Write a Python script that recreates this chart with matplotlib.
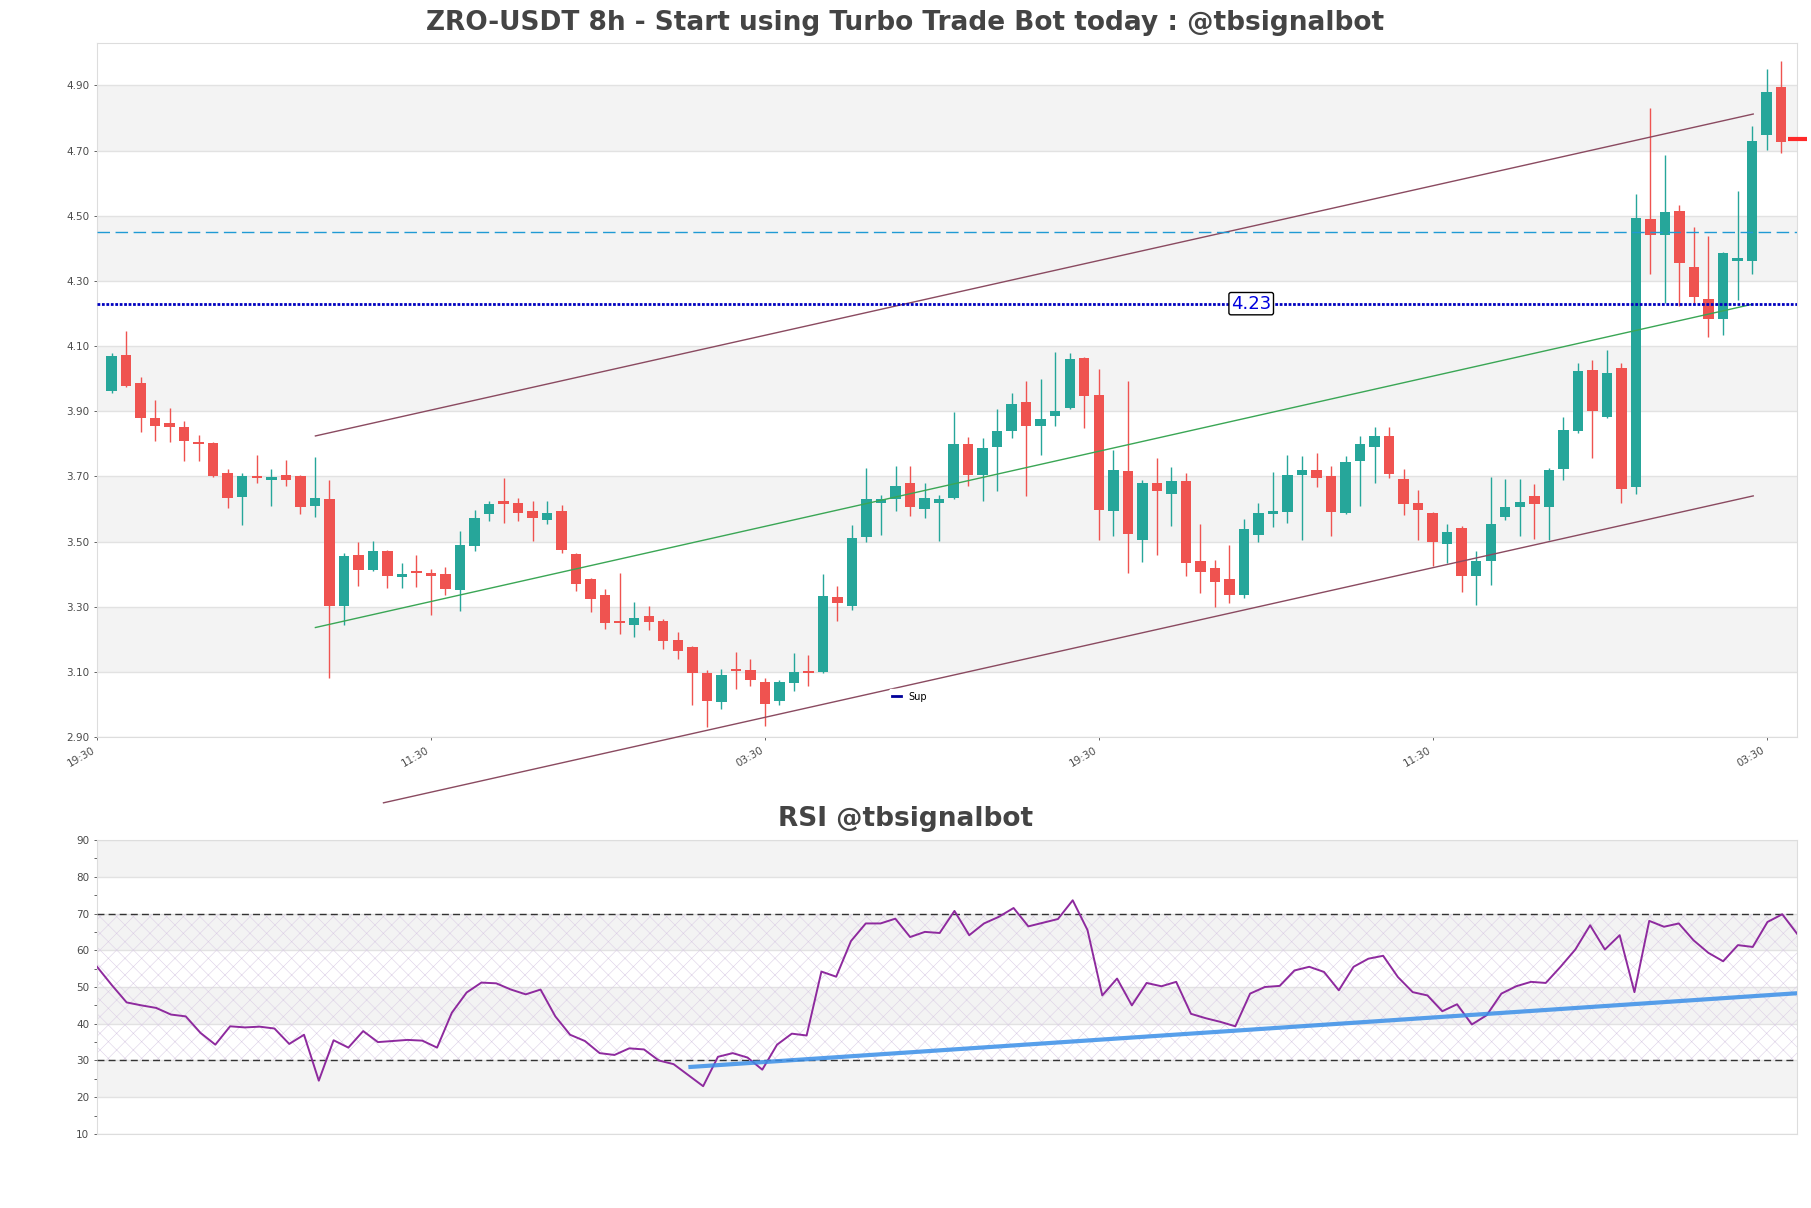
import numpy as np
import matplotlib.pyplot as plt
from matplotlib.lines import Line2D

# 8h candles
opens = [3.962, 4.072, 3.987, 3.880, 3.864, 3.852, 3.805, 3.803, 3.711, 3.636,
         3.700, 3.688, 3.705, 3.700, 3.608, 3.629, 3.302, 3.460, 3.412, 3.472,
         3.391, 3.409, 3.402, 3.399, 3.351, 3.486, 3.584, 3.624, 3.617, 3.593,
         3.566, 3.593, 3.463, 3.385, 3.336, 3.250, 3.245, 3.270, 3.255, 3.197,
         3.176, 3.096, 3.006, 3.103, 3.105, 3.068, 3.009, 3.067, 3.099, 3.099,
         3.329, 3.303, 3.514, 3.618, 3.630, 3.681, 3.599, 3.619, 3.633, 3.800,
         3.705, 3.789, 3.840, 3.927, 3.856, 3.884, 3.910, 4.063, 3.950, 3.593,
         3.717, 3.504, 3.681, 3.645, 3.687, 3.439, 3.420, 3.385, 3.336, 3.519,
         3.584, 3.590, 3.703, 3.721, 3.700, 3.586, 3.748, 3.790, 3.823, 3.692,
         3.619, 3.588, 3.491, 3.540, 3.393, 3.439, 3.574, 3.605, 3.639, 3.605,
         3.723, 3.840, 4.026, 3.881, 4.032, 3.666, 4.491, 4.441, 4.515, 4.343,
         4.244, 4.184, 4.360, 4.362, 4.748, 4.895]
highs = [4.080, 4.146, 4.005, 3.935, 3.909, 3.870, 3.827, 3.805, 3.722, 3.710,
         3.766, 3.723, 3.751, 3.703, 3.758, 3.689, 3.465, 3.498, 3.501, 3.474,
         3.433, 3.460, 3.417, 3.422, 3.532, 3.598, 3.625, 3.694, 3.634, 3.623,
         3.623, 3.613, 3.465, 3.387, 3.353, 3.402, 3.313, 3.301, 3.261, 3.221,
         3.178, 3.105, 3.108, 3.160, 3.139, 3.080, 3.075, 3.157, 3.151, 3.399,
         3.363, 3.552, 3.727, 3.642, 3.731, 3.733, 3.681, 3.644, 3.898, 3.821,
         3.818, 3.906, 3.956, 3.993, 3.999, 4.082, 4.079, 4.065, 4.029, 3.782,
         3.993, 3.690, 3.757, 3.730, 3.709, 3.555, 3.442, 3.488, 3.569, 3.619,
         3.712, 3.766, 3.761, 3.772, 3.731, 3.761, 3.823, 3.851, 3.851, 3.723,
         3.657, 3.592, 3.554, 3.548, 3.472, 3.698, 3.693, 3.693, 3.676, 3.725,
         3.881, 4.048, 4.056, 4.087, 4.048, 4.568, 4.832, 4.685, 4.532, 4.464,
         4.439, 4.390, 4.575, 4.775, 4.950, 4.975]
lows = [3.957, 3.975, 3.835, 3.807, 3.804, 3.746, 3.748, 3.697, 3.602, 3.550,
        3.679, 3.608, 3.669, 3.585, 3.575, 3.082, 3.243, 3.363, 3.409, 3.357,
        3.357, 3.360, 3.273, 3.335, 3.287, 3.472, 3.562, 3.556, 3.563, 3.502,
        3.554, 3.466, 3.349, 3.285, 3.231, 3.215, 3.206, 3.229, 3.169, 3.139,
        2.999, 2.931, 2.987, 3.047, 3.055, 2.935, 2.997, 3.041, 3.055, 3.097,
        3.257, 3.291, 3.497, 3.520, 3.594, 3.578, 3.573, 3.501, 3.631, 3.669,
        3.623, 3.654, 3.819, 3.639, 3.767, 3.853, 3.908, 3.847, 3.504, 3.516,
        3.403, 3.437, 3.459, 3.549, 3.394, 3.342, 3.300, 3.311, 3.328, 3.499,
        3.544, 3.557, 3.504, 3.667, 3.517, 3.583, 3.610, 3.681, 3.695, 3.581,
        3.504, 3.425, 3.433, 3.346, 3.305, 3.368, 3.565, 3.517, 3.507, 3.504,
        3.690, 3.832, 3.756, 3.879, 3.619, 3.646, 4.321, 4.231, 4.222, 4.231,
        4.127, 4.133, 4.240, 4.322, 4.701, 4.692]
closes = [4.069, 3.978, 3.878, 3.856, 3.850, 3.807, 3.798, 3.702, 3.633, 3.702,
          3.695, 3.698, 3.688, 3.605, 3.635, 3.302, 3.454, 3.412, 3.472, 3.394,
          3.399, 3.403, 3.394, 3.354, 3.488, 3.573, 3.616, 3.614, 3.588, 3.572,
          3.587, 3.474, 3.370, 3.324, 3.251, 3.249, 3.264, 3.254, 3.196, 3.165,
          3.096, 3.009, 3.090, 3.102, 3.074, 3.000, 3.068, 3.099, 3.096, 3.333,
          3.310, 3.512, 3.629, 3.632, 3.671, 3.605, 3.635, 3.632, 3.800, 3.705,
          3.788, 3.840, 3.922, 3.853, 3.877, 3.901, 4.060, 3.948, 3.598, 3.720,
          3.522, 3.681, 3.654, 3.687, 3.434, 3.406, 3.376, 3.336, 3.537, 3.586,
          3.593, 3.703, 3.721, 3.696, 3.590, 3.743, 3.798, 3.823, 3.707, 3.616,
          3.597, 3.499, 3.530, 3.393, 3.441, 3.554, 3.605, 3.621, 3.616, 3.720,
          3.841, 4.024, 3.901, 4.017, 3.661, 4.493, 4.441, 4.512, 4.355, 4.250,
          4.184, 4.386, 4.370, 4.728, 4.881, 4.726]

rsi = [55.5, 50.5, 45.8, 45.0, 44.3, 42.5, 42.0, 37.5, 34.3, 39.3,
       39.0, 39.2, 38.7, 34.5, 37.0, 24.5, 35.5, 33.5, 38.0, 35.0,
       35.3, 35.6, 35.4, 33.5, 43.0, 48.5, 51.2, 51.0, 49.3, 48.0,
       49.3, 42.0, 37.0, 35.3, 32.0, 31.5, 33.3, 33.0, 30.0, 29.0,
       26.0, 23.0, 31.0, 32.0, 30.8, 27.5, 34.3, 37.3, 36.8, 54.2,
       52.8, 62.5, 67.3, 67.3, 68.6, 63.6, 65.0, 64.7, 70.7, 64.1,
       67.3, 69.1, 71.5, 66.5, 67.5, 68.5, 73.6, 65.5, 47.7, 52.3,
       45.0, 51.1, 50.2, 51.4, 42.7, 41.5, 40.5, 39.3, 48.2, 50.0,
       50.3, 54.5, 55.5, 54.1, 49.1, 55.5, 57.7, 58.5, 52.7, 48.6,
       47.7, 43.4, 45.3, 39.8, 42.3, 48.2, 50.2, 51.4, 51.1, 55.5,
       60.2, 66.8, 60.2, 64.1, 48.6, 68.0, 66.4, 67.3, 62.7, 59.3,
       57.0, 61.4, 60.9, 67.7, 69.8, 64.5]

tick_pos = [0, 23, 46, 69, 92, 115]
tick_labels = ["19:30", "11:30", "03:30", "19:30", "11:30", "03:30"]

sup_level = 4.23
res_level = 4.45
last_mark = 4.735
chan_upper = ([15.04, 114.08], [3.824, 4.812])
chan_mid = ([15.04, 114.0], [3.236, 4.228])
chan_lower = ([19.73, 114.08], [2.698, 3.640])
rsi_trend = ([40, 115], [28.2, 48.3])

UP = "#26a69a"
DOWN = "#ef5350"
BAND = "#f3f3f3"
GRID = "#e2e2e2"
TXT = "#4a4a4a"

plt.rcParams["hatch.linewidth"] = 0.4

fig = plt.figure(figsize=(18.11, 12.08), dpi=100)
ax = fig.add_axes([0.0536, 0.3899, 0.9387, 0.5745])
rx = fig.add_axes([0.0536, 0.0613, 0.9387, 0.2433])

# ---- price panel
o = np.array(opens)
h = np.array(highs)
l = np.array(lows)
c = np.array(closes)
x = np.arange(1, len(c) + 1)
up = c >= o
cols = np.where(up, UP, DOWN)
body_lo = np.minimum(o, c)
body_h = np.maximum(np.abs(c - o), 0.007)

for lo_b in np.arange(3.10, 5.0, 0.4):
    ax.axhspan(lo_b, lo_b + 0.2, color=BAND, zorder=0, lw=0)

ax.vlines(x, l, h, colors=cols, lw=1.0, zorder=2)
ax.bar(x, body_h, bottom=body_lo, width=0.72, color=cols, zorder=3, lw=0)

ax.plot(*chan_upper, color="#8a4a60", lw=1.0, zorder=4)
ax.plot(*chan_mid, color="#3aa655", lw=1.0, zorder=4)
ax.plot(*chan_lower, color="#8a4a60", lw=1.0, zorder=4, clip_on=False)

ax.axhline(sup_level, color="#0000c0", lw=2.0, dashes=(1, 0.6), zorder=4)
ax.axhline(res_level, color="#1f9ad4", lw=1.0, dashes=(9, 4), zorder=4)
ax.text(79.5, sup_level, "4.23", color="#0000dd", fontsize=13, ha="center", va="center", zorder=6,
        bbox=dict(boxstyle="round,pad=0.12", fc="white", ec="black", lw=1))

ax.plot([116.5, 117.8], [last_mark, last_mark], color="#ff2a2a", lw=3, clip_on=False, zorder=5,
        solid_capstyle="butt")

ax.set_xlim(0, 117.1)
ax.set_ylim(2.90, 5.03)
ax.set_yticks(np.arange(2.90, 4.91, 0.2))
ax.set_yticklabels(["%.2f" % v for v in np.arange(2.90, 4.91, 0.2)])
ax.set_xticks(tick_pos)
ax.set_xticklabels(tick_labels, rotation=30, ha="right")
ax.tick_params(axis="both", labelsize=7.5, colors=TXT, length=2, width=0.6)
ax.grid(axis="y", color=GRID, lw=1.0, zorder=1)
ax.set_axisbelow(True)
for s in ax.spines.values():
    s.set_color("#dddddd")

leg = ax.legend(handles=[Line2D([0], [0], color="#000099", lw=2)], labels=["Sup"],
                loc="center", bbox_to_anchor=(0.478, 0.058), fontsize=7, handlelength=0.9,
                frameon=True, framealpha=1, edgecolor="white", borderpad=0.3)
leg.set_zorder(7)

fig.text(0.5, 0.981, "ZRO-USDT 8h - Start using Turbo Trade Bot today : @tbsignalbot",
         ha="center", va="center", fontsize=19, fontweight="bold", color="#444444")

# ---- RSI panel
xr = np.arange(len(rsi))
for lo_b in [20, 40, 60, 80]:
    rx.axhspan(lo_b, lo_b + 10, color=BAND, zorder=0, lw=0)
rx.fill_between([0, len(rsi) - 1], 30, 70, facecolor="none", edgecolor="#dccfe6",
                hatch="xx", lw=0, zorder=1)
rx.axhline(30, color="#333333", lw=1.0, ls=(0, (5, 3)), zorder=3)
rx.axhline(70, color="#333333", lw=1.0, ls=(0, (5, 3)), zorder=3)
rx.plot(xr, rsi, color="#8e2a9e", lw=1.4, zorder=4)
rx.plot(*rsi_trend, color="#3a8fe8", lw=3, alpha=0.85, zorder=5, solid_capstyle="butt")

rx.set_xlim(0, len(rsi) - 1)
rx.set_ylim(10, 90)
rx.set_yticks(range(10, 91, 10))
rx.set_yticks(range(15, 90, 10), minor=True)
rx.set_xticks([])
rx.tick_params(axis="y", which="both", labelsize=7.5, colors=TXT, length=2, width=0.6)
rx.grid(axis="y", color=GRID, lw=1.0, zorder=1)
rx.set_axisbelow(True)
for s in rx.spines.values():
    s.set_color("#dddddd")

fig.text(0.5, 0.322, "RSI @tbsignalbot", ha="center", va="center", fontsize=19,
         fontweight="bold", color="#444444")

fig.savefig("out.png", dpi=100)
